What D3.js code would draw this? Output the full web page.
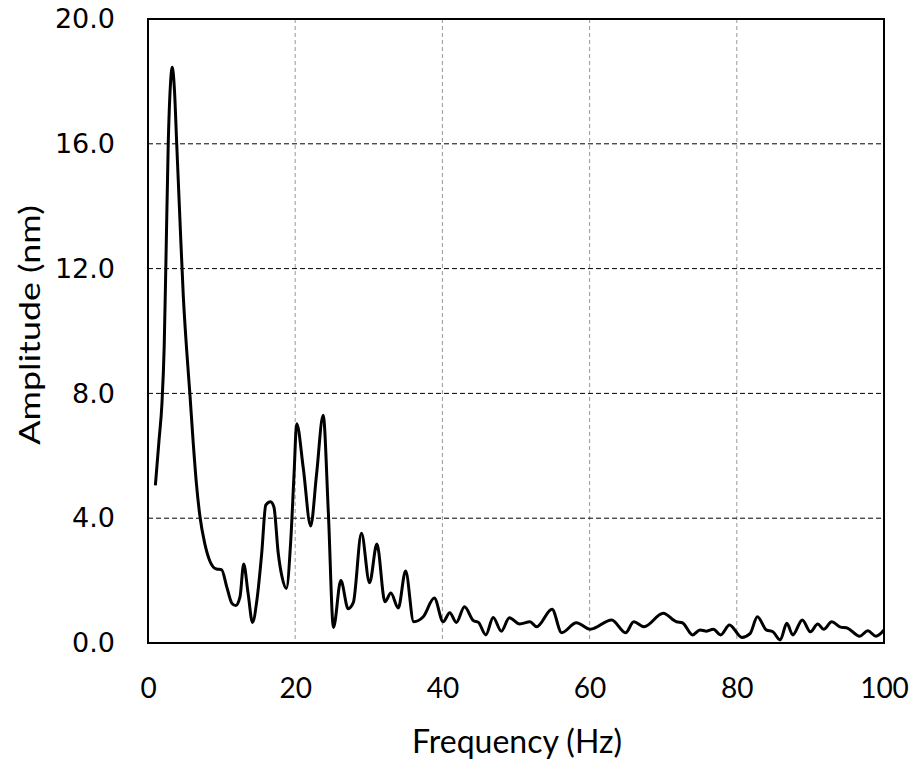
<!DOCTYPE html>
<html><head><meta charset="utf-8">
<script src="https://cdn.jsdelivr.net/npm/d3@7"></script>
<style>body{margin:0;background:#fff}</style>
</head><body>
<svg id="chart" width="914" height="759"></svg>
<script>
const freqs = [1.0,1.5,1.9,2.2,2.45,2.75,3.05,3.3,3.6,3.9,4.35,4.8,5.25,5.7,6.15,6.6,7.05,7.7,8.4,9.3,10.0,10.7,11.4,11.9,12.5,13.0,13.6,14.2,14.8,15.45,16.0,16.65,17.1,17.7,18.2,18.8,19.4,19.85,20.2,21.1,22.1,22.9,23.8,24.5,25.2,26.2,27.2,27.9,29.0,30.1,31.1,32.2,33.0,34.0,35.0,36.1,37.4,38.9,40.1,41.0,41.9,43.0,44.2,44.9,45.9,46.9,48.0,49.1,50.5,51.9,52.8,54.9,56.2,58.2,60.1,63.0,64.9,66.0,67.4,70.0,71.8,72.6,74.0,75.0,75.9,76.8,77.8,79.0,80.7,81.8,82.8,84.0,84.9,85.9,86.8,87.6,88.9,90.0,91.0,91.8,92.9,94.0,95.1,96.7,97.8,98.9,100.0];
const amps  = [5.05,6.5,7.7,9.5,12.4,16.0,17.9,18.45,17.7,16.0,13.5,11.1,9.4,7.95,6.4,5.05,4.07,3.2,2.63,2.37,2.35,1.8,1.27,1.2,1.48,2.53,1.59,0.66,1.38,2.87,4.42,4.53,4.37,2.87,2.13,1.75,3.3,5.45,7.03,5.6,3.75,5.4,7.3,4.2,0.5,2.0,1.1,1.3,3.52,1.93,3.17,1.32,1.6,1.12,2.31,0.68,0.84,1.44,0.68,0.97,0.66,1.16,0.72,0.66,0.26,0.82,0.38,0.81,0.61,0.68,0.52,1.08,0.33,0.65,0.44,0.74,0.33,0.68,0.52,0.95,0.68,0.65,0.26,0.42,0.38,0.44,0.26,0.58,0.18,0.3,0.84,0.42,0.36,0.1,0.63,0.26,0.74,0.36,0.61,0.44,0.68,0.52,0.47,0.22,0.39,0.22,0.42];
const xTicks = [0,20,40,60,80,100];
const yTicks = [0,4,8,12,16,20];
const xTitle = "Frequency (Hz)";
const yTitle = "Amplitude (nm)";

const data = freqs.map((f,i)=>({f, a: amps[i]}));
const svg = d3.select("#chart");
const L=148, R=884, T=19, B=643;
const x = d3.scaleLinear().domain([0,100]).range([L,R]);
const y = d3.scaleLinear().domain([0,20]).range([B,T]);

// grid
svg.append("g").selectAll("line").data(xTicks.filter(d=>d>0&&d<100)).join("line")
  .attr("x1",d=>x(d)).attr("x2",d=>x(d)).attr("y1",T).attr("y2",B)
  .attr("stroke","#999").attr("stroke-width",1).attr("stroke-dasharray","4,3");
svg.append("g").selectAll("line").data(yTicks.filter(d=>d>0&&d<20)).join("line")
  .attr("x1",L).attr("x2",R).attr("y1",d=>y(d)).attr("y2",d=>y(d))
  .attr("stroke","#000").attr("stroke-width",1).attr("stroke-dasharray","5,3");

// axes (labels only)
const xAxis = svg.append("g").attr("transform",`translate(0,${B})`)
  .call(d3.axisBottom(x).tickValues(xTicks).tickSize(0).tickPadding(35).tickFormat(d3.format("d")));
xAxis.select(".domain").remove();
xAxis.selectAll("text").style("font-family","Lato, sans-serif").style("font-size","28px").attr("fill","#000");

const yAxis = svg.append("g").attr("transform",`translate(${L},0)`)
  .call(d3.axisLeft(y).tickValues(yTicks).tickSize(0).tickPadding(33).tickFormat(d3.format(".1f")));
yAxis.select(".domain").remove();
yAxis.selectAll("text")
  .style("font-family","'DejaVu Sans', sans-serif").style("font-size","27px")
  .attr("fill","#000");

// line
svg.append("path").datum(data)
  .attr("fill","none").attr("stroke","#000").attr("stroke-width",3).attr("stroke-linejoin","round")
  .attr("d", d3.line().x(d=>x(d.f)).y(d=>y(d.a)).curve(d3.curveMonotoneX));

// frame
svg.append("rect").attr("x",L).attr("y",T).attr("width",R-L).attr("height",B-T)
  .attr("fill","none").attr("stroke","#000").attr("stroke-width",2);

// titles
svg.append("text").attr("x",517).attr("y",753).attr("text-anchor","middle")
  .style("font-family","Lato, sans-serif").style("font-size","32px").text(xTitle);
svg.append("text").attr("transform",`translate(40,325) rotate(-90) scale(1.28,1)`).attr("text-anchor","middle")
  .style("font-family","Lato, sans-serif").style("font-size","28px").text(yTitle);
</script>
</body></html>
